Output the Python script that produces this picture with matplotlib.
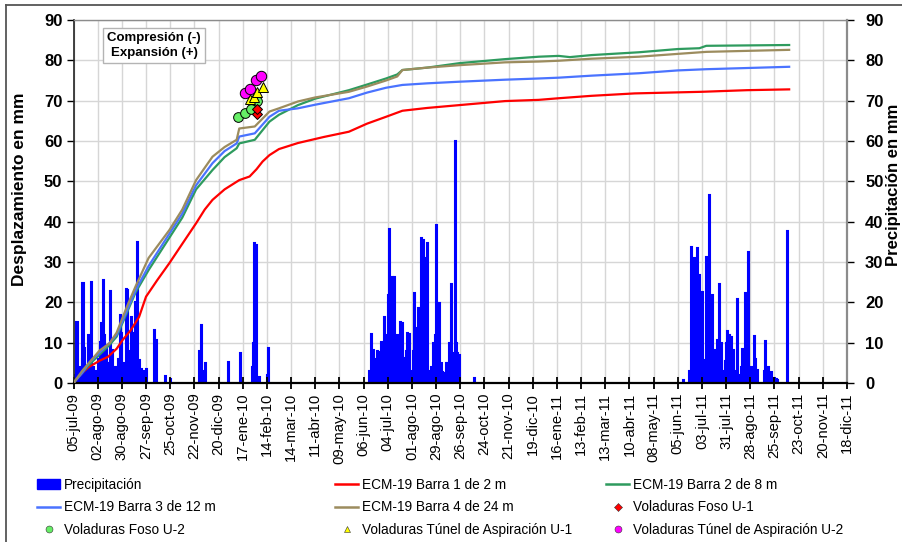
import numpy as np
import pandas as pd
import matplotlib
matplotlib.use('Agg')
import matplotlib.pyplot as plt
import matplotlib.dates as mdates
from matplotlib.ticker import FuncFormatter
from matplotlib.lines import Line2D
from matplotlib.patches import Patch

plt.rcParams['font.family'] = ['Liberation Sans', 'DejaVu Sans']

# ---------------- data ----------------
start_date = '2009-07-05'
end_date = '2011-12-18'
tick_step_days = 28
months_es = ['ene', 'feb', 'mar', 'abr', 'may', 'jun',
             'jul', 'ago', 'sep', 'oct', 'nov', 'dic']

# precipitation: day offset from start date, mm
precip_days = [2, 4, 6, 8, 10, 11, 13, 15, 17, 18, 20, 21, 23, 25, 27, 29, 31, 33, 35, 36,
               38, 39, 41, 43, 45, 46, 48, 50, 52, 54, 56, 58, 59, 61, 63, 65, 67, 69, 71, 72,
               74, 76, 77, 79, 82, 85, 94, 96, 107, 112,
               146, 148, 150, 153, 180, 193, 207, 209, 210, 212, 215, 225, 226,
               343, 345, 346, 348, 350, 352, 354, 356, 357, 360, 362, 363, 365, 366, 368, 369,
               371, 372, 374, 375, 377, 379, 381, 383, 384, 386, 387, 389, 391, 394, 395, 397,
               398, 400, 402, 403, 404, 405, 407, 408, 410, 412, 415, 417, 419, 420, 422, 424,
               426, 427, 429, 432, 433, 436, 438, 440, 441, 443, 444, 445, 447, 464,
               707, 714, 716, 718, 719, 721, 723, 725, 727, 728, 731, 733, 735, 737, 739, 740,
               743, 745, 746, 748, 750, 751, 753, 755, 757, 758, 760, 762, 764, 765, 767, 769,
               771, 774, 775, 777, 779, 782, 785, 787, 789, 790, 792, 800, 802, 805, 808, 812,
               814, 816, 827]
precip_mm = [2, 15.2, 3, 4, 6, 24.7, 8.6, 3, 5, 11.9, 6, 25.1, 4, 2, 3, 6, 10.2, 14.8, 25.5, 12,
             9.4, 5, 5, 22.8, 8.2, 4, 3, 4, 6, 16.9, 12.3, 5, 3, 23.2, 23, 8, 16.4, 6, 12.3, 20,
             35.0, 5.7, 3, 3.5, 3, 3.5, 13.1, 10.7, 1.7, 1,
             8, 14.4, 3, 4.9, 5.3, 7.4, 4, 10, 34.6, 34.3, 1.5, 2, 8.6,
             3, 12.1, 8, 8.2, 6, 7.9, 7.7, 4, 10.2, 16.4, 8, 11.9, 21.8, 38.1, 14, 26.4,
             12, 26.4, 8, 11.9, 7, 15.2, 14.8, 5, 6.1, 8, 12.3, 12.1, 3, 8, 22.2, 13.6,
             10, 18.5, 12, 35.9, 20, 35.5, 10, 30.9, 34.8, 3, 4, 9.8, 12, 39.2, 19.8, 19.8,
             5, 2.8, 2.4, 4.9, 4.9, 10, 24.5, 5, 7.4, 59.9, 10, 7.4, 7, 1.2,
             0.7, 3, 33.8, 25, 30.9, 15, 33.4, 26.8, 15, 22.6, 5.7, 31.3, 20, 46.6, 15, 21.8,
             8.2, 5, 10.7, 24.5, 10, 5.5, 3, 5.5, 10, 13, 12, 11.5, 8, 8.2, 3, 20.8,
             2, 4, 8.4, 8, 22.2, 32.6, 4, 3, 11.7, 6, 3.3, 3, 10.4, 4, 2.8, 1.2,
             1.0, 0.8, 37.7]

# displacement curves: day offset, mm
barra1_days = [0, 10, 18, 30, 40, 50, 57, 66, 76, 84, 97, 111, 126, 142, 152, 161, 175, 192,
               204, 212, 219, 227, 238, 260, 290, 319, 340, 362, 381, 410, 447, 500, 539, 562,
               600, 650, 728, 780, 829]
barra1_mm = [0, 2.5, 4.0, 5.5, 6.5, 8.5, 10.7, 13, 16.4, 21.4, 25.5, 29.7, 34.5, 39.6, 43,
             45.4, 48, 50.3, 51.2, 53, 54.9, 56.5, 58, 59.5, 61, 62.3, 64.3, 66, 67.5, 68.2,
             68.9, 69.9, 70.2, 70.6, 71.2, 71.8, 72.2, 72.6, 72.8]

barra2_days = [0, 10, 18, 30, 42, 50, 62, 72, 87, 111, 126, 142, 161, 175, 189, 192, 210,
               227, 238, 260, 280, 319, 340, 362, 375, 381, 410, 447, 500, 539, 562, 575,
               600, 655, 700, 725, 733, 829]
barra2_mm = [0, 2.5, 4.5, 7, 9.5, 11.5, 17.5, 22.5, 28, 36, 41, 48, 52.8, 56, 58.2, 59.4,
             60.3, 64.8, 66.5, 68.9, 70.5, 72.6, 74, 75.5, 76.5, 77.6, 78.2, 79.3, 80.3, 80.9,
             81.1, 80.8, 81.3, 82.0, 82.8, 83.0, 83.6, 83.8]

barra3_days = [0, 10, 18, 30, 42, 50, 62, 72, 87, 111, 126, 142, 161, 175, 189, 192, 210,
               227, 238, 260, 280, 319, 340, 362, 381, 410, 447, 500, 539, 562, 600, 655,
               700, 733, 829]
barra3_mm = [0, 2.5, 5, 7.5, 10, 12, 18, 23, 29, 37, 42, 49, 54.5, 57.5, 59.4, 61.1, 61.9,
             66, 67.5, 68.1, 69, 70.6, 72, 73.2, 73.9, 74.3, 74.7, 75.2, 75.5, 75.7, 76.2,
             76.8, 77.5, 77.8, 78.4]

barra4_days = [0, 10, 18, 30, 42, 50, 62, 72, 87, 111, 126, 142, 161, 175, 189, 192, 210,
               227, 238, 260, 280, 319, 340, 362, 375, 381, 410, 447, 500, 539, 562, 600,
               655, 700, 733, 829]
barra4_mm = [0, 3, 5, 8, 9.9, 12.5, 19, 24, 31, 37.9, 43, 50.3, 56.1, 58.5, 60.3, 63.1,
             63.6, 67.3, 68.1, 69.8, 70.8, 72.2, 73.5, 75, 76, 77.6, 78.2, 78.8, 79.5, 79.7,
             79.9, 80.4, 80.9, 81.6, 82.1, 82.6]

# blasting events: day offset, mm
foso_u1_days = [212, 213]
foso_u1_mm = [66.8, 67.9]
foso_u2_days = [190, 199, 206, 212]
foso_u2_mm = [66.0, 66.9, 67.9, 69.9]
tunel_u1_days = [204, 209, 213, 219]
tunel_u1_mm = [70.4, 71.0, 72.2, 73.5]
tunel_u2_days = [199, 204, 211, 217]
tunel_u2_mm = [72.0, 72.8, 75.1, 76.1]

# ---------------- helpers ----------------
t0 = pd.Timestamp(start_date)
t1 = pd.Timestamp(end_date)


def to_dates(days):
    return t0 + pd.to_timedelta(np.asarray(days, dtype=float), unit='D')


W, H = 902, 542
fig = plt.figure(figsize=(W / 100, H / 100), dpi=100)
L, R, B, T = 73.5 / W, 847 / W, 1 - 383 / H, 1 - 20 / H
ax = fig.add_axes([L, B, R - L, T - B])
ax2 = ax.twinx()
ax.set_zorder(ax2.get_zorder() + 1)
ax.patch.set_visible(False)
ax2.patch.set_visible(True)
ax2.patch.set_facecolor('white')

# precipitation bars (right axis)
ax2.bar(to_dates(precip_days), precip_mm, width=1.3, color='#0000ff',
        edgecolor='#0000ff', linewidth=1.5, zorder=2)

# displacement lines (left axis)
c_red, c_green, c_blue, c_brown = '#ff0000', '#2e9b5e', '#4a73ff', '#9c8c5e'
ax.plot(to_dates(barra1_days), barra1_mm, color=c_red, lw=1.6, zorder=3)
ax.plot(to_dates(barra2_days), barra2_mm, color=c_green, lw=1.6, zorder=3)
ax.plot(to_dates(barra3_days), barra3_mm, color=c_blue, lw=1.6, zorder=3)
ax.plot(to_dates(barra4_days), barra4_mm, color=c_brown, lw=1.6, zorder=3)

mk = dict(ls='none', mec='black', mew=0.7, zorder=5)
ax.plot(to_dates(foso_u2_days), foso_u2_mm, marker='o', ms=7, mfc='#66ee66', **mk)
ax.plot(to_dates(tunel_u1_days), tunel_u1_mm, marker='^', ms=7, mfc='#ffff00', **mk)
ax.plot(to_dates(tunel_u2_days), tunel_u2_mm, marker='o', ms=7.5, mfc='#ff00ff', **mk)
ax.plot(to_dates(foso_u1_days), foso_u1_mm, marker='D', ms=5.5, mfc='#ff0000', **mk)

# axes limits & ticks
ax.set_xlim(t0, t1)
ax.set_ylim(0, 90)
ax2.set_ylim(0, 90)
n_ticks = int((t1 - t0).days // tick_step_days) + 1
xt = [t0 + pd.Timedelta(days=tick_step_days * k) for k in range(n_ticks)]
ax.set_xticks(xt)


def fmt(x, pos):
    d = mdates.num2date(x)
    return f"{d.day:02d}-{months_es[d.month - 1]}-{d.year % 100:02d}"


ax.xaxis.set_major_formatter(FuncFormatter(fmt))
yt = list(range(0, 91, 10))
ax.set_yticks(yt)
ax.set_yticklabels([str(v) for v in yt], fontweight='bold', fontsize=12)
ax2.set_yticks(yt)
ax2.set_yticklabels([str(v) for v in yt], fontweight='bold', fontsize=12)

ax.tick_params(axis='x', direction='inout', length=8, width=1.3, labelsize=10.6,
               labelrotation=90, pad=3)
ax.tick_params(axis='y', direction='out', length=5, width=1.0, pad=3)
ax2.tick_params(axis='y', direction='out', length=5, width=1.0, pad=8)

# grid on the lower axes
ax2.xaxis.set_visible(True)
ax2.tick_params(axis='x', which='both', bottom=False, top=False,
                labelbottom=False, labeltop=False)
ax2.grid(True, axis='both', color='#d6d6d6', lw=1.0, zorder=0)
ax2.set_axisbelow(True)

for s in ax2.spines.values():
    s.set_visible(False)
ax.spines['left'].set_color('#222222')
ax.spines['left'].set_linewidth(1.2)
ax.spines['bottom'].set_color('black')
ax.spines['bottom'].set_linewidth(1.6)
ax.spines['top'].set_color('#8c8c8c')
ax.spines['top'].set_linewidth(1.0)
ax.spines['right'].set_color('#8c8c8c')
ax.spines['right'].set_linewidth(1.6)

# axis titles
fig.text(20 / W, 1 - 189 / H, 'Desplazamiento en mm', rotation=90, ha='center',
         va='center', fontsize=12.5, fontweight='bold')
fig.text(886 / W, 1 - 185 / H, 'Precipitación en mm', rotation=90, ha='left',
         va='center', fontsize=12, fontweight='bold')

# annotation box
fig.text(154 / W, 1 - 45.5 / H, 'Compresión (-)\nExpansión (+)', ha='center', va='center',
         fontsize=9.5, fontweight='bold', linespacing=1.3,
         bbox=dict(boxstyle='square,pad=0.35', fc='white', ec='#b4b4b4', lw=1.0))

# figure frame (top and left visible)
fig.add_artist(Line2D([6 / W, 6 / W], [0, 1 - 5 / H], transform=fig.transFigure,
                      color='#555555', lw=1.3))
fig.add_artist(Line2D([6 / W, 1], [1 - 5 / H, 1 - 5 / H], transform=fig.transFigure,
                      color='#555555', lw=1.3))

# legend (three columns)
leg_kw = dict(loc='upper left', frameon=False, fontsize=9.8, handlelength=1.7,
              handletextpad=0.25, labelspacing=0.62, borderpad=0, borderaxespad=0)
h_prec = Patch(facecolor='#0000ff', edgecolor='#0000ff')
h_b1 = Line2D([], [], color=c_red, lw=1.8)
h_b2 = Line2D([], [], color=c_green, lw=1.8)
h_b3 = Line2D([], [], color=c_blue, lw=1.8)
h_b4 = Line2D([], [], color=c_brown, lw=1.8)
lmk = dict(ls='none', mec='#333333', mew=0.4)
h_f1 = Line2D([], [], marker='D', ms=4, mfc='#ff0000', **lmk)
h_f2 = Line2D([], [], marker='o', ms=5, mfc='#66ee66', **lmk)
h_t1 = Line2D([], [], marker='^', ms=5, mfc='#ffff00', **lmk)
h_t2 = Line2D([], [], marker='o', ms=5, mfc='#ff00ff', **lmk)

fig.legend([h_prec, h_b3, h_f2],
           ['Precipitación', 'ECM-19 Barra 3 de 12 m', 'Voladuras Foso U-2'],
           bbox_to_anchor=(37 / W, 1 - 478 / H), **leg_kw)
fig.legend([h_b1, h_b4, h_t1],
           ['ECM-19 Barra 1 de 2 m', 'ECM-19 Barra 4 de 24 m', 'Voladuras Túnel de Aspiración U-1'],
           bbox_to_anchor=(335 / W, 1 - 478 / H), **leg_kw)
fig.legend([h_b2, h_f1, h_t2],
           ['ECM-19 Barra 2 de 8 m', 'Voladuras Foso U-1', 'Voladuras Túnel de Aspiración U-2'],
           bbox_to_anchor=(606 / W, 1 - 478 / H), **leg_kw)

fig.savefig('out.png', dpi=100, facecolor='white')
